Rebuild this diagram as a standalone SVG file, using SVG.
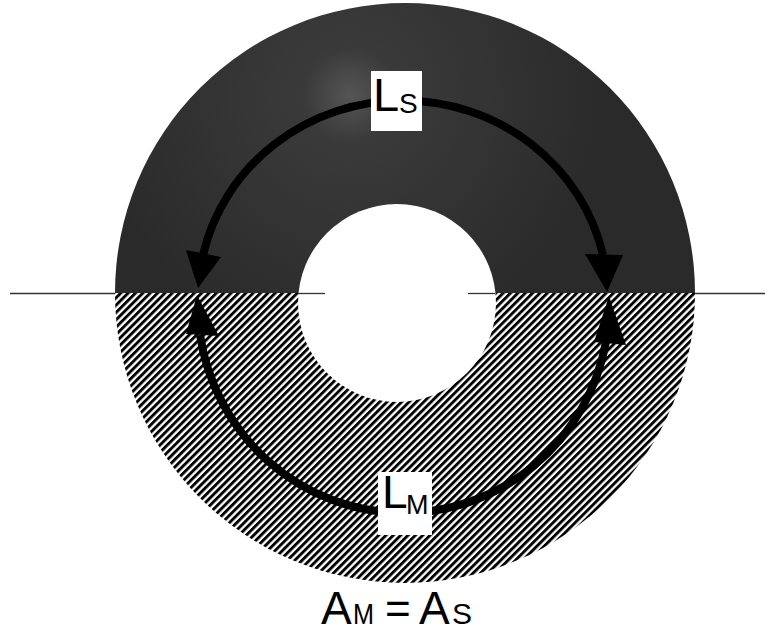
<svg xmlns="http://www.w3.org/2000/svg" width="772" height="634" viewBox="0 0 772 634">
  <defs>
    <style>
      .lbl { font-family: "Liberation Sans", Arial, sans-serif; fill: #000; }
      .box { fill: #fff; }
      .arc { fill: none; stroke: #000; stroke-width: 8; }
      .head { fill: #000; }
      .axis { stroke: #333; stroke-width: 1.3; fill: none; }
    </style>
    <pattern id="hatch" patternUnits="userSpaceOnUse" width="5.2" height="5.2" patternTransform="rotate(45)">
      <rect x="0" y="0" width="5.2" height="5.2" fill="#fff"/>
      <rect x="0" y="0" width="2.9" height="5.2" fill="#000"/>
    </pattern>
    <radialGradient id="dark" gradientUnits="userSpaceOnUse" cx="350" cy="95" r="260">
      <stop offset="0" stop-color="#555"/>
      <stop offset="0.18" stop-color="#3a3a3a"/>
      <stop offset="1" stop-color="#2a2a2a"/>
    </radialGradient>
  </defs>
  <rect width="772" height="634" fill="#fff"/>

  <g id="annulus">
    <path d="M 115 293 A 290 290 0 0 1 695 293 Z" fill="url(#dark)"/>
    <path d="M 115 293 A 290 290 0 0 0 695 293 Z" fill="url(#hatch)"/>
    <circle cx="397" cy="303" r="99" fill="#fff"/>
  </g>

  <g id="axis">
    <line class="axis" x1="10" y1="293.5" x2="115" y2="293.5"/>
    <line class="axis" x1="298" y1="293.5" x2="325" y2="293.5"/>
    <line class="axis" x1="468" y1="293.5" x2="495" y2="293.5"/>
    <line class="axis" x1="695" y1="293.5" x2="765" y2="293.5"/>
  </g>

  <g id="connectors">
    <path class="arc" d="M 203 255 A 205 198 0 0 1 603 255"/>
    <path class="arc" d="M 200 335 A 206 210 0 0 0 606 342"/>
    <polygon class="head" points="186,250 221,257 198,288"/>
    <polygon class="head" points="585,254 623,255 607,292"/>
    <polygon class="head" points="186,334 219,336 197,295"/>
    <polygon class="head" points="594,342 626,345 609,296"/>
  </g>

  <g id="label-LS">
    <rect class="box" x="371" y="71" width="51" height="60"/>
    <text class="lbl" x="373" y="111" font-size="47">L</text>
    <text class="lbl" x="399" y="113" font-size="28">S</text>
  </g>

  <g id="label-LM">
    <rect class="box" x="378" y="472" width="54" height="63"/>
    <text class="lbl" x="382" y="508" font-size="46">L</text>
    <text class="lbl" x="406" y="514" font-size="27">M</text>
  </g>

  <g id="label-eq">
    <text class="lbl" x="321" y="624" font-size="46">A</text>
    <text class="lbl" x="353" y="624" font-size="30" textLength="21" lengthAdjust="spacingAndGlyphs">M</text>
    <text class="lbl" x="385" y="624" font-size="44">=</text>
    <text class="lbl" x="419" y="624" font-size="46">A</text>
    <text class="lbl" x="452" y="624" font-size="30">S</text>
  </g>
</svg>
